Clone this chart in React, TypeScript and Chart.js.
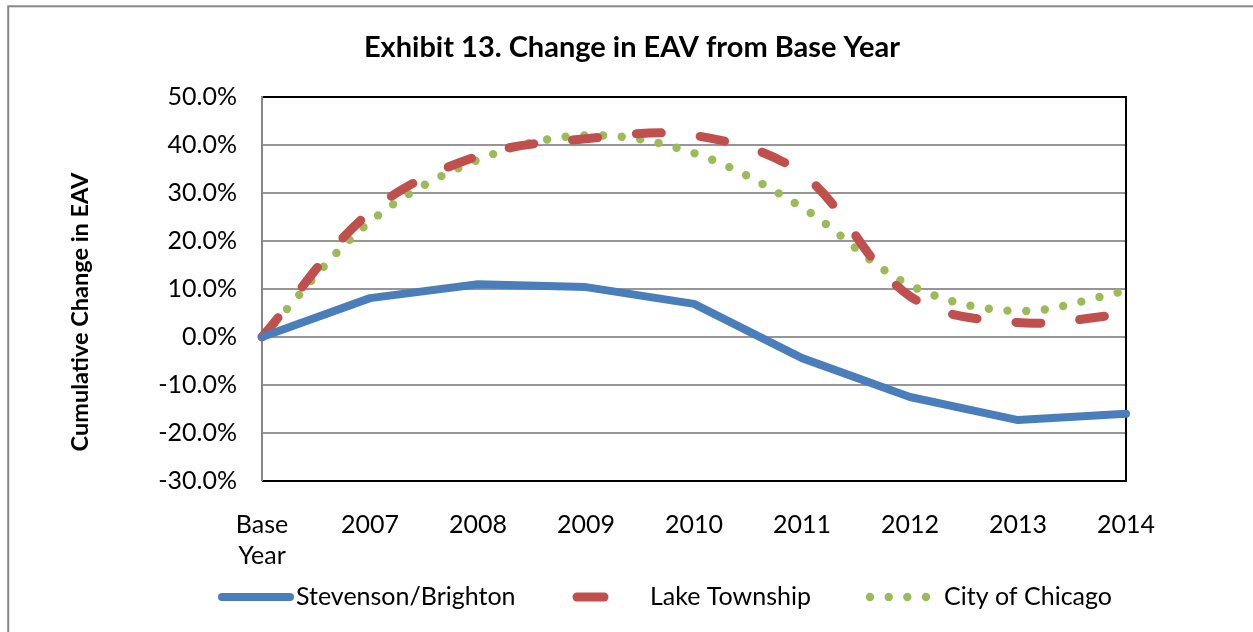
import React, { useEffect, useRef } from "react";
import { Chart, registerables } from "chart.js";

Chart.register(...registerables);

const categories: (string | string[])[] = [["Base", "Year"], "2007", "2008", "2009", "2010", "2011", "2012", "2013", "2014"];
const stevensonBrighton = [0, 8.1, 11.0, 10.4, 6.9, -4.4, -12.5, -17.3, -16.0];
const lakeTownship = [0, 26.0, 37.7, 41.3, 42.0, 34.0, 8.5, 3.0, 4.8];
const cityOfChicago = [0, 24.0, 36.9, 42.0, 38.3, 27.0, 10.8, 5.4, 9.6];
const seriesNames = ["Stevenson/Brighton", "Lake Township", "City of Chicago"];
const chartTitle = "Exhibit 13. Change in EAV from Base Year";
const yAxisTitle = "Cumulative Change in EAV";
const yMin = -30;
const yMax = 50;
const yStep = 10;

const FONT = "Lato, 'Liberation Sans', sans-serif";
const BLUE = "#4A7EBB";
const RED = "#C0504D";
const GREEN = "#9BBB59";

const framePlugin = {
  id: "frame",
  beforeDraw(chart: any) {
    const ctx = chart.ctx;
    ctx.save();
    ctx.fillStyle = "#ffffff";
    ctx.fillRect(0, 0, chart.width, chart.height);
    ctx.strokeStyle = "#878787";
    ctx.lineWidth = 2;
    ctx.strokeRect(8.2, 6.3, chart.width + 50, chart.height + 50);
    ctx.restore();
  },
  beforeDatasetsDraw(chart: any) {
    const { ctx, chartArea } = chart;
    const { left, top, right, bottom } = chartArea;
    ctx.save();
    ctx.lineWidth = 2;
    ctx.strokeStyle = "#000000";
    ctx.beginPath();
    ctx.moveTo(left, top);
    ctx.lineTo(right, top);
    ctx.lineTo(right, bottom);
    ctx.lineTo(left, bottom);
    ctx.stroke();
    ctx.strokeStyle = "#868686";
    ctx.beginPath();
    ctx.moveTo(left, top - 1);
    ctx.lineTo(left, bottom);
    ctx.stroke();
    ctx.restore();
  },
  afterDraw(chart: any) {
    const ctx = chart.ctx;
    ctx.save();
    ctx.fillStyle = "#000000";
    // chart title
    ctx.font = `bold 29px ${FONT}`;
    ctx.textAlign = "center";
    ctx.textBaseline = "middle";
    ctx.fillText(chartTitle, 632, 48);
    // y axis title
    ctx.save();
    ctx.translate(80, 312);
    ctx.rotate(-Math.PI / 2);
    ctx.font = `bold 23.5px ${FONT}`;
    ctx.fillText(yAxisTitle, 0, 0);
    ctx.restore();

    const y = 597;
    ctx.lineCap = "round";
    // Stevenson/Brighton
    ctx.strokeStyle = BLUE;
    ctx.lineWidth = 8;
    ctx.beginPath();
    ctx.moveTo(222, y);
    ctx.lineTo(290, y);
    ctx.stroke();
    // Lake Township
    ctx.strokeStyle = RED;
    ctx.lineWidth = 9;
    ctx.beginPath();
    ctx.moveTo(577, y);
    ctx.lineTo(604, y);
    ctx.stroke();
    // City of Chicago
    ctx.fillStyle = GREEN;
    [870, 888.7, 907.3, 926].forEach((x) => {
      ctx.beginPath();
      ctx.arc(x, y, 4.2, 0, Math.PI * 2);
      ctx.fill();
    });
    ctx.fillStyle = "#000000";
    ctx.font = `25px ${FONT}`;
    ctx.textBaseline = "middle";
    ctx.textAlign = "left";
    ctx.fillText(seriesNames[0], 296, y);
    ctx.fillText(seriesNames[1], 650, y);
    ctx.fillText(seriesNames[2], 944, y);
    ctx.restore();
  },
};

export default function App() {
  const ref = useRef<HTMLCanvasElement | null>(null);
  useEffect(() => {
    if (!ref.current) return;
    const chart = new Chart(ref.current, {
      type: "line",
      data: {
        labels: categories,
        datasets: [
          {
            label: seriesNames[0],
            data: stevensonBrighton,
            borderColor: BLUE,
            backgroundColor: BLUE,
            borderWidth: 8,
            tension: 0,
            pointRadius: 0,
            borderJoinStyle: "round",
            borderCapStyle: "round",
            clip: false,
          } as any,
          {
            label: seriesNames[1],
            data: lakeTownship,
            borderColor: RED,
            backgroundColor: RED,
            borderWidth: 9,
            tension: 0.35,
            pointRadius: 0,
            borderDash: [25, 39],
            borderCapStyle: "round",
            borderJoinStyle: "round",
            clip: false,
          } as any,
          {
            label: seriesNames[2],
            data: cityOfChicago,
            borderColor: GREEN,
            backgroundColor: GREEN,
            borderWidth: 8.4,
            tension: 0.35,
            pointRadius: 0,
            borderDash: [0, 18.7],
            borderCapStyle: "round",
            clip: false,
          } as any,
        ],
      },
      options: {
        responsive: false,
        animation: false,
        devicePixelRatio: 1,
        layout: { padding: { top: 97, right: 127, left: 0, bottom: 0 } },
        plugins: {
          legend: { display: false },
          tooltip: { enabled: false },
          title: { display: false },
        },
        scales: {
          x: {
            type: "category",
            offset: false,
            grid: { display: false, drawTicks: false },
            border: { display: false },
            ticks: {
              color: "#000000",
              font: { family: FONT, size: 25, lineHeight: 1.25 },
              padding: 28,
              maxRotation: 0,
              autoSkip: false,
            },
            afterFit: (s: any) => {
              s.height = 151;
            },
          },
          y: {
            min: yMin,
            max: yMax,
            grid: { color: "#969696", lineWidth: 2, drawTicks: false },
            border: { display: false },
            ticks: {
              stepSize: yStep,
              color: "#000000",
              font: { family: FONT, size: 25 },
              padding: 25,
              callback: (v: any) => Number(v).toFixed(1) + "%",
            },
            title: { display: false },
            afterFit: (s: any) => {
              s.width = 262;
            },
          },
        },
      },
      plugins: [framePlugin],
    } as any);
    return () => chart.destroy();
  }, []);
  return (
    <canvas
      ref={ref}
      width={1253}
      height={632}
      style={{ position: "fixed", left: 0, top: 0, width: 1253, height: 632, display: "block" }}
    />
  );
}
